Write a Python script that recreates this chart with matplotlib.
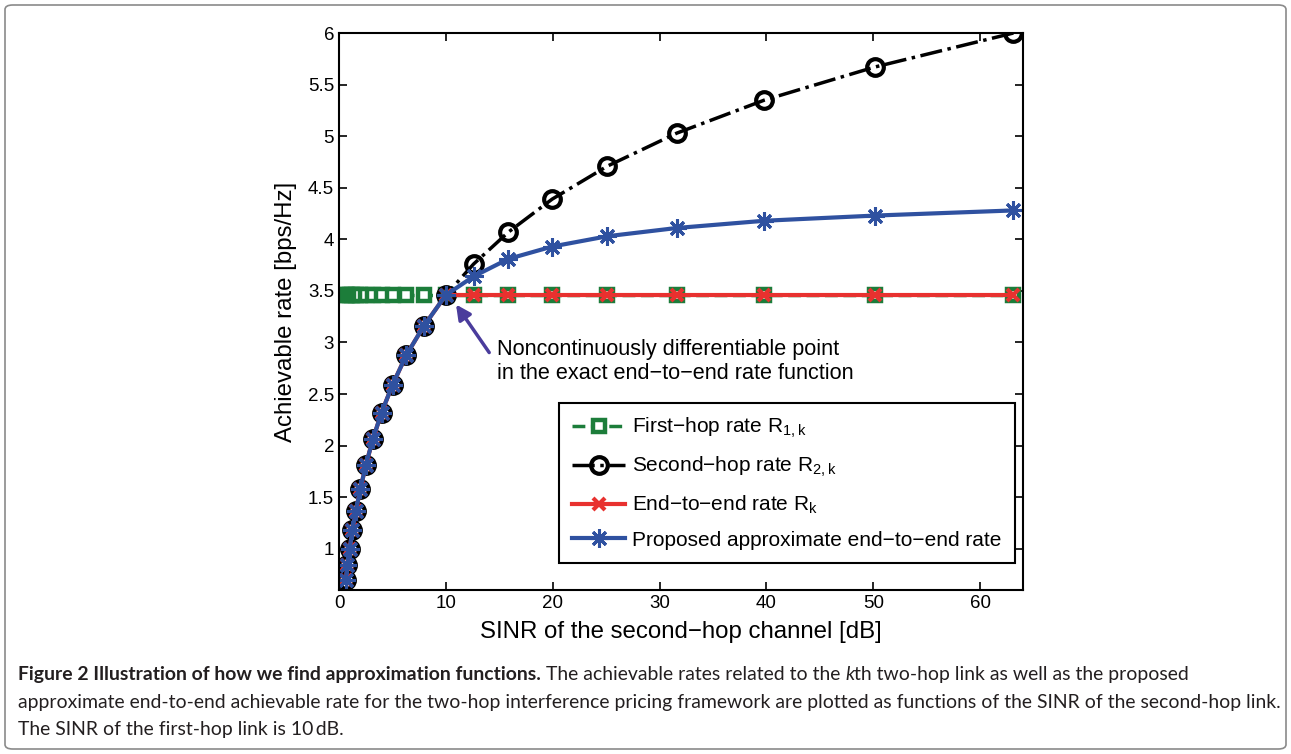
import matplotlib
matplotlib.use("Agg")
import matplotlib.pyplot as plt
from matplotlib.patches import FancyBboxPatch
from matplotlib.ticker import FuncFormatter

# SINR of the second hop (linear)
sinr = [0.63, 0.79, 1.0, 1.26, 1.58, 2.0, 2.51, 3.16, 3.98, 5.01, 6.31,
        7.94, 10.0, 12.59, 15.85, 19.95, 25.12, 31.62, 39.81, 50.12, 63.1]

first_hop = [3.46, 3.46, 3.46, 3.46, 3.46, 3.46, 3.46, 3.46, 3.46, 3.46, 3.46,
             3.46, 3.46, 3.46, 3.46, 3.46, 3.46, 3.46, 3.46, 3.46, 3.46]
second_hop = [0.70, 0.84, 1.00, 1.18, 1.37, 1.58, 1.81, 2.06, 2.32, 2.59, 2.88,
              3.16, 3.46, 3.76, 4.07, 4.39, 4.71, 5.03, 5.35, 5.67, 6.00]
end_to_end = [0.70, 0.84, 1.00, 1.18, 1.37, 1.58, 1.81, 2.06, 2.32, 2.59, 2.88,
              3.16, 3.46, 3.46, 3.46, 3.46, 3.46, 3.46, 3.46, 3.46, 3.46]
proposed = [0.70, 0.84, 1.00, 1.18, 1.37, 1.58, 1.81, 2.06, 2.32, 2.59, 2.88,
            3.16, 3.46, 3.64, 3.81, 3.93, 4.03, 4.11, 4.18, 4.23, 4.28]

x_ticks = [0, 10, 20, 30, 40, 50, 60]
y_ticks = [1, 1.5, 2, 2.5, 3, 3.5, 4, 4.5, 5, 5.5, 6]

caption = [
    [("Figure 2 Illustration of how we find approximation functions.", "bold", "normal"),
     (" The achievable rates related to the ", "normal", "normal"),
     ("k", "normal", "italic"),
     ("th two-hop link as well as the proposed", "normal", "normal")],
    [("approximate end-to-end achievable rate for the two-hop interference pricing "
      "framework are plotted as functions of the SINR of the second-hop link.", "normal", "normal")],
    [("The SINR of the first-hop link is 10\u2009dB.", "normal", "normal")],
]

plt.rcParams['font.family'] = ['Liberation Sans', 'DejaVu Sans']
plt.rcParams['mathtext.fontset'] = 'custom'
plt.rcParams['mathtext.rm'] = 'Liberation Sans'
plt.rcParams['mathtext.it'] = 'Liberation Sans'

green = '#1c7d3a'
red = '#e8312f'
blue = '#2f51a0'
arrow_col = '#4a3c9c'

fig = plt.figure(figsize=(12.91, 7.54), dpi=100)
ax = fig.add_axes([0.2626, 0.2175, 0.5298, 0.7387])

ax.plot(sinr, first_hop, '--', color=green, lw=2.5, marker='s', ms=9,
        mfc='white', mec=green, mew=3.2, label='First\u2212hop rate R$_{\\mathrm{1,k}}$')
ax.plot(sinr, second_hop, '-.', color='black', lw=2.5, marker='o', ms=12,
        mfc='none', mec='black', mew=3, label='Second\u2212hop rate R$_{\\mathrm{2,k}}$')
ax.plot(sinr, end_to_end, '-', color=red, lw=3, marker='x', ms=9,
        mew=3, label='End\u2212to\u2212end rate R$_{\\mathrm{k}}$')
ax.plot(sinr, proposed, '-', color=blue, lw=3, marker=(8, 2, 0), ms=13,
        mew=2.2, label='Proposed approximate end\u2212to\u2212end rate')

ax.set_xlim(0, 64)
ax.set_ylim(0.6, 6)
ax.set_xticks(x_ticks)
ax.set_yticks(y_ticks)
ax.yaxis.set_major_formatter(FuncFormatter(lambda v, p: '%g' % v))
ax.tick_params(direction='in', top=True, right=True, labelsize=13.5, length=6, width=1.2)
for s in ax.spines.values():
    s.set_linewidth(1.5)

ax.set_xlabel('SINR of the second\u2212hop channel [dB]', fontsize=17.3)
ax.set_ylabel('Achievable rate [bps/Hz]', fontsize=17.3)
ax.xaxis.set_label_coords(0.5, -0.056)
ax.yaxis.set_label_coords(-0.062, 0.5)

ax.annotate('', xy=(10.8, 3.39), xytext=(14.2, 2.88),
            arrowprops=dict(arrowstyle='-|>', color=arrow_col, lw=2.5, mutation_scale=22))
ax.text(14.8, 3.03, 'Noncontinuously differentiable point\nin the exact end\u2212to\u2212end rate function',
        fontsize=15.6, va='top', ha='left', linespacing=1.15)

leg = ax.legend(loc='lower right', bbox_to_anchor=(0.988, 0.048), fontsize=15,
                fancybox=False, edgecolor='black', framealpha=1, handlelength=2.5,
                labelspacing=0.7, borderpad=0.65, handletextpad=0.35, borderaxespad=0)
leg.get_frame().set_linewidth(1.5)

# rounded frame around the figure
fig.patches.append(FancyBboxPatch((5 / 1291, 5 / 754), 1281 / 1291, 744 / 754,
                                  boxstyle='round,pad=0,rounding_size=0.006',
                                  transform=fig.transFigure, fill=False,
                                  edgecolor='#8a8a8a', lw=1.2))

# caption with mixed weights
renderer = fig.canvas.get_renderer()
cap_font = ['Lato', 'DejaVu Sans']
baselines = [680, 708, 735]
for line, yb in zip(caption, baselines):
    xpos = 18
    for txt, weight, style in line:
        t = fig.text(xpos / 1291, 1 - yb / 754, txt, fontsize=13.95, family=cap_font,
                     fontweight=weight, fontstyle=style, va='baseline', ha='left',
                     color='#231f20')
        xpos += t.get_window_extent(renderer).width

fig.savefig('out.png', dpi=100)
